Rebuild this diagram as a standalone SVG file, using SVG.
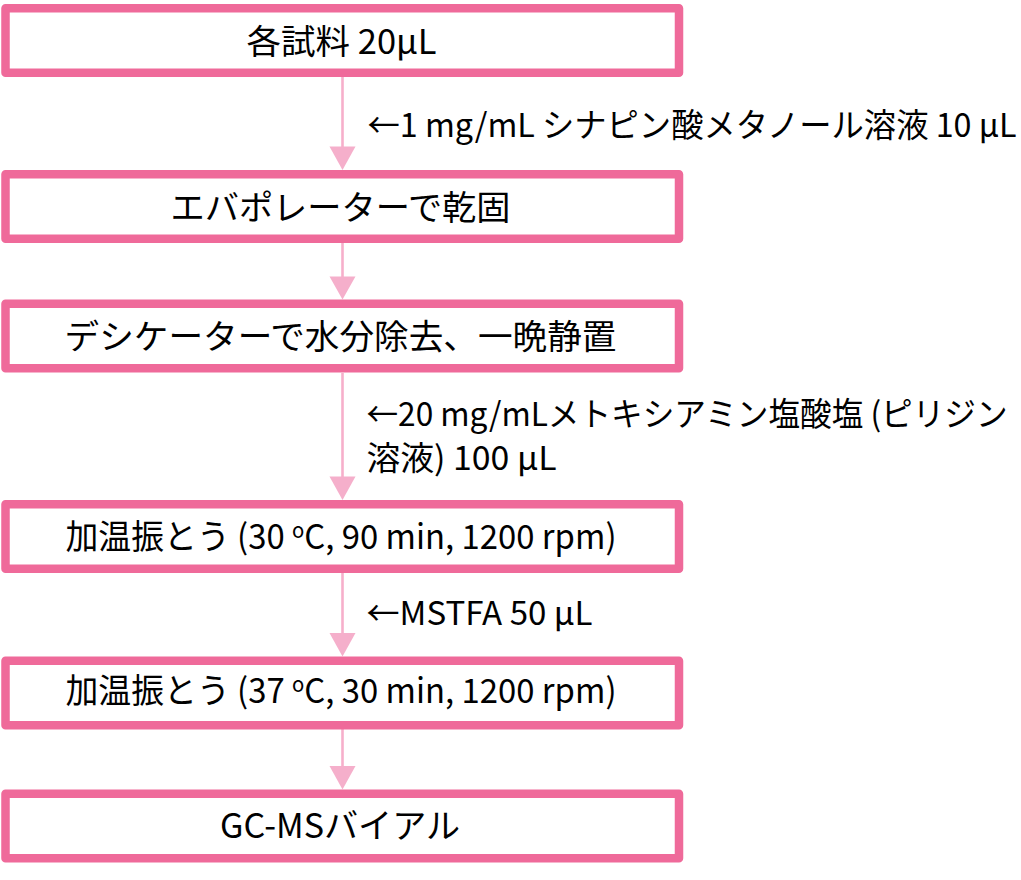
<svg xmlns="http://www.w3.org/2000/svg" width="1021" height="880" viewBox="0 0 1021 880">
  <style>
    .box { fill: #FFFFFF; stroke: #EF6A9A; stroke-width: 8.5; stroke-linejoin: round; }
    .link { stroke: #F6AFCB; stroke-width: 2.6; fill: none; }
    .head { fill: #F5AFCB; stroke: none; }
    .t { font-family: "Noto Sans CJK JP", "Noto Sans CJK SC", sans-serif; font-size: 34px; fill: #000000; }
    .lbl { font-size: 33px; }
    .sup { font-size: 21px; }
  </style>
  <rect width="1021" height="880" fill="#FFFFFF"/>

  <g id="connectors">
    <line class="link" x1="342.5" y1="77" x2="342.5" y2="148"/>
    <polygon class="head" points="329.5,146.5 355.5,146.5 342.5,170"/>
    <line class="link" x1="342.5" y1="243" x2="342.5" y2="278"/>
    <polygon class="head" points="329.5,276.5 355.5,276.5 342.5,299.5"/>
    <line class="link" x1="342.5" y1="373" x2="342.5" y2="478"/>
    <polygon class="head" points="329.5,476.5 355.5,476.5 342.5,500"/>
    <line class="link" x1="342.5" y1="573" x2="342.5" y2="634"/>
    <polygon class="head" points="329.5,633 355.5,633 342.5,656.5"/>
    <line class="link" x1="342.5" y1="729" x2="342.5" y2="767"/>
    <polygon class="head" points="329.5,766 355.5,766 342.5,789.5"/>
  </g>

  <g id="labels">
    <text class="t lbl" x="367.5" y="136.5" textLength="649" lengthAdjust="spacingAndGlyphs">←1 mg/mL シナピン酸メタノール溶液 10 µL</text>
    <text class="t lbl" x="366.5" y="425.5" textLength="641" lengthAdjust="spacingAndGlyphs">←20 mg/mLメトキシアミン塩酸塩 (ピリジン</text>
    <text class="t lbl" x="366.5" y="470" textLength="190" lengthAdjust="spacingAndGlyphs">溶液) 100 µL</text>
    <text class="t lbl" x="366.5" y="625" textLength="226" lengthAdjust="spacingAndGlyphs">←MSTFA 50 µL</text>
  </g>

  <g id="node1">
    <rect class="box" x="5.5" y="8.25" width="673.5" height="64.5"/>
    <text class="t" x="246.5" y="53.5" textLength="190" lengthAdjust="spacingAndGlyphs">各試料 20µL</text>
  </g>
  <g id="node2">
    <rect class="box" x="5.5" y="174.25" width="673.5" height="64.5"/>
    <text class="t" x="170.5" y="219.5" textLength="340" lengthAdjust="spacingAndGlyphs">エバポレーターで乾固</text>
  </g>
  <g id="node3">
    <rect class="box" x="5.5" y="303.75" width="673.5" height="64.5"/>
    <text class="t" x="64.5" y="349" textLength="552" lengthAdjust="spacingAndGlyphs">デシケーターで水分除去、一晩静置</text>
  </g>
  <g id="node4">
    <rect class="box" x="5.5" y="504.25" width="673.5" height="64.5"/>
    <text class="t" x="65.5" y="548.5" textLength="551" lengthAdjust="spacingAndGlyphs">加温振とう (30 <tspan class="sup" baseline-shift="11">o</tspan>C, 90 min, 1200 rpm)</text>
  </g>
  <g id="node5">
    <rect class="box" x="5.5" y="660.75" width="673.5" height="64.5"/>
    <text class="t" x="65.5" y="703" textLength="551" lengthAdjust="spacingAndGlyphs">加温振とう (37 <tspan class="sup" baseline-shift="11">o</tspan>C, 30 min, 1200 rpm)</text>
  </g>
  <g id="node6">
    <rect class="box" x="5.5" y="793.75" width="673.5" height="64.5"/>
    <text class="t" x="220" y="838" textLength="240" lengthAdjust="spacingAndGlyphs">GC-MSバイアル</text>
  </g>
</svg>
